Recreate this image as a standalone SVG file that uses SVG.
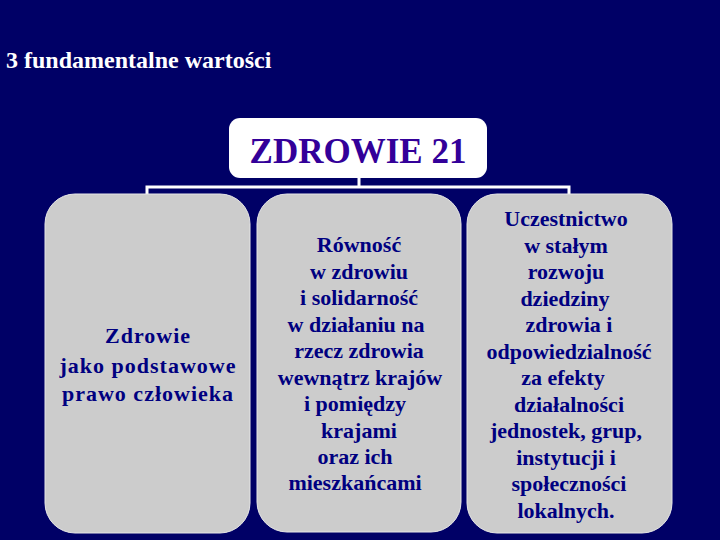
<svg xmlns="http://www.w3.org/2000/svg" width="720" height="540" viewBox="0 0 720 540">
<style>
.bg{fill:#000066}
.box{fill:#cccccc;stroke:#e6e6e6;stroke-width:1}
.t{font-family:"Liberation Serif","Times New Roman",serif;font-weight:bold;fill:#000080;text-anchor:middle;font-size:22px}
.conn{stroke:#ffffff;stroke-width:3;fill:none}
</style>
<rect class="bg" x="0" y="0" width="720" height="540"/>
<text x="6" y="68" font-family="Liberation Serif, serif" font-weight="bold" font-size="24" fill="#ffffff">3 fundamentalne wartości</text>
<g id="connectors">
<path class="conn" d="M359 178 V187 M147 195 V187 H569 V195"/>
</g>
<g id="root">
<rect x="229" y="118" width="258" height="60" rx="11" fill="#ffffff"/>
<text x="358" y="163" font-family="Liberation Serif, serif" font-weight="bold" font-size="35" fill="#330099" text-anchor="middle">ZDROWIE 21</text>
</g>
<g id="node1">
<rect class="box" x="45" y="194" width="205" height="339" rx="30"/>
<text class="t" letter-spacing="1"><tspan x="148" y="343">Zdrowie</tspan><tspan x="148" y="373">jako podstawowe</tspan><tspan x="148" y="401">prawo człowieka</tspan></text>
</g>
<g id="node2">
<rect class="box" x="257" y="194" width="204" height="338" rx="30"/>
<text class="t"><tspan x="359" y="252">Równość</tspan><tspan x="359" y="278.5">w zdrowiu</tspan><tspan x="359" y="305">i solidarność</tspan><tspan x="356" y="331.5">w działaniu na</tspan><tspan x="359" y="358">rzecz zdrowia</tspan><tspan x="360" y="384.5">wewnątrz krajów</tspan><tspan x="355" y="411">i pomiędzy</tspan><tspan x="359" y="437.5">krajami</tspan><tspan x="355" y="464">oraz ich</tspan><tspan x="355" y="490">mieszkańcami</tspan></text>
</g>
<g id="node3">
<rect class="box" x="467" y="194" width="205" height="339" rx="30"/>
<text class="t"><tspan x="566" y="226">Uczestnictwo</tspan><tspan x="566" y="252.5">w stałym</tspan><tspan x="566" y="279">rozwoju</tspan><tspan x="565" y="305.5">dziedziny</tspan><tspan x="569" y="332">zdrowia i</tspan><tspan x="569" y="358.5">odpowiedzialność</tspan><tspan x="563" y="385">za efekty</tspan><tspan x="569" y="411.5">działalności</tspan><tspan x="566" y="438">jednostek, grup,</tspan><tspan x="566" y="464.5">instytucji i</tspan><tspan x="569" y="491">społeczności</tspan><tspan x="566" y="517.5">lokalnych.</tspan></text>
</g>
</svg>
